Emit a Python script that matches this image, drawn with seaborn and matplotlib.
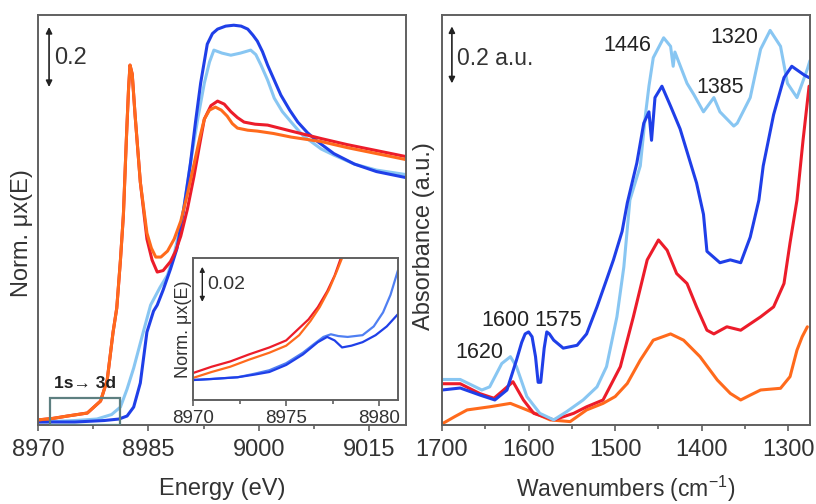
import numpy as np
import pandas as pd
import matplotlib.pyplot as plt
import seaborn as sns

# --- XANES (left) ---
e_orange = [8970, 8972, 8974, 8976.7, 8978.5, 8979.4, 8980.2, 8980.7, 8981.2, 8981.6, 8982.0, 8982.3, 8982.5,
            8982.8, 8983.2, 8983.9, 8984.8, 8985.4, 8986.0, 8986.7, 8987.6, 8988.5, 8989.4, 8990.3, 8991.2, 8992.0,
            8992.6, 8993.3, 8994.1, 8994.9, 8995.7, 8996.4, 8997.1, 8998.5, 8999.8, 9002.0, 9004.4, 9008.5, 9012.0,
            9016.0, 9020.0]
mu_orange = [0.017, 0.022, 0.03, 0.04, 0.08, 0.15, 0.31, 0.39, 0.55, 0.70, 0.95, 1.12, 1.2,
             1.17, 1.03, 0.81, 0.64, 0.59, 0.56, 0.56, 0.58, 0.62, 0.68, 0.77, 0.87, 0.96,
             1.02, 1.05, 1.06, 1.05, 1.03, 1.005, 0.99, 0.983, 0.98, 0.972, 0.96, 0.945, 0.925,
             0.905, 0.885]
e_red = [8970, 8972, 8974, 8976.7, 8978.5, 8979.4, 8980.2, 8980.7, 8981.2, 8981.6, 8982.0, 8982.3, 8982.5,
         8982.8, 8983.2, 8983.9, 8984.8, 8985.5, 8986.2, 8987.0, 8988.0, 8988.7, 8989.4, 8990.3, 8991.2, 8992.0,
         8992.6, 8993.5, 8994.4, 8995.3, 8996.2, 8997.1, 8998.0, 8999.5, 9001.2, 9002.8, 9004.4, 9008.5, 9012.0,
         9016.0, 9020.0]
mu_red = [0.017, 0.022, 0.03, 0.04, 0.08, 0.15, 0.31, 0.39, 0.55, 0.70, 0.95, 1.12, 1.2,
          1.17, 1.03, 0.81, 0.62, 0.55, 0.51, 0.515, 0.545, 0.58, 0.63, 0.72, 0.83, 0.94,
          1.02, 1.065, 1.08, 1.07, 1.045, 1.025, 1.01, 1.003, 1.0, 0.99, 0.98, 0.955, 0.935,
          0.915, 0.895]
e_blue = [8970, 8975, 8979, 8981, 8982.1, 8983.0, 8983.9, 8984.8, 8985.7, 8986.2, 8987.0, 8988.0, 8988.9, 8989.8,
          8990.7, 8991.4, 8992.1, 8993.0, 8993.7, 8994.4, 8995.5, 8996.6, 8997.6, 8998.5, 8999.2, 8999.8, 9000.5,
          9001.2, 9002.1, 9003.0, 9004.2, 9005.3, 9006.6, 9008.0, 9010.2, 9013.0, 9016.0, 9020.0]
mu_blue = [0.01, 0.01, 0.015, 0.02, 0.03, 0.06, 0.14, 0.31, 0.38, 0.40, 0.45, 0.52, 0.59, 0.72,
           0.87, 1.01, 1.14, 1.27, 1.305, 1.32, 1.33, 1.333, 1.33, 1.32, 1.30, 1.28, 1.245,
           1.2, 1.15, 1.1, 1.05, 1.01, 0.975, 0.945, 0.905, 0.87, 0.845, 0.825]
e_lblue = [8970, 8975, 8978, 8980, 8981.2, 8982.1, 8983.0, 8984.3, 8985.3, 8986.6, 8987.6, 8988.5, 8989.6, 8990.7,
           8991.7, 8992.6, 8993.3, 8993.9, 8995.0, 8996.2, 8997.5, 8998.9, 8999.6, 9000.3, 9001.2, 9002.1, 9003.2,
           9004.4, 9006.0, 9008.5, 9010.2, 9013.0, 9016.0, 9020.0]
mu_lblue = [0.01, 0.015, 0.02, 0.035, 0.06, 0.12, 0.19, 0.31, 0.40, 0.46, 0.50, 0.57, 0.69, 0.87,
            1.02, 1.14, 1.21, 1.25, 1.24, 1.233, 1.24, 1.25, 1.235, 1.2, 1.15, 1.09, 1.045,
            1.01, 0.965, 0.92, 0.9, 0.87, 0.85, 0.835]

# --- pre-edge inset ---
ie_red = [8970, 8971, 8972, 8973, 8974.1, 8975, 8975.6, 8976.2, 8976.7, 8977.2, 8977.6, 8977.9, 8978.2]
imu_red = [0.0154, 0.019, 0.022, 0.026, 0.030, 0.034, 0.040, 0.046, 0.053, 0.062, 0.071, 0.080, 0.09]
ie_orange = [8970, 8971, 8972, 8973, 8974.1, 8975, 8975.7, 8976.3, 8976.8, 8977.3, 8977.7, 8978.0, 8978.3]
imu_orange = [0.0126, 0.016, 0.019, 0.023, 0.027, 0.031, 0.037, 0.045, 0.053, 0.063, 0.073, 0.081, 0.09]
ie_blue1 = [8970, 8971, 8972.4, 8973.3, 8974.1, 8975, 8975.9, 8976.5, 8977.0, 8977.4, 8977.8, 8978.3, 8979.1,
            8979.7, 8980.2, 8980.6, 8981]
imu_blue1 = [0.0114, 0.012, 0.013, 0.015, 0.017, 0.021, 0.027, 0.032, 0.036, 0.0375, 0.0365, 0.036, 0.037,
             0.042, 0.050, 0.060, 0.074]
ie_blue2 = [8970, 8971, 8972.4, 8973.3, 8974.1, 8975, 8975.9, 8976.7, 8977.2, 8977.6, 8978.0, 8978.5, 8979.1,
            8979.8, 8980.4, 8981]
imu_blue2 = [0.0114, 0.012, 0.013, 0.0145, 0.016, 0.020, 0.026, 0.033, 0.036, 0.034, 0.030, 0.031, 0.033,
             0.037, 0.042, 0.049]

# --- IR (right) ---
wn_orange = [1700, 1685, 1671, 1645, 1621, 1602, 1588, 1575, 1552, 1533, 1514, 1500, 1486, 1471, 1456, 1436,
             1421, 1402, 1382, 1367, 1355, 1344, 1332, 1309, 1298, 1290, 1284, 1278]
ab_orange = [0.004, 0.03, 0.053, 0.064, 0.076, 0.053, 0.035, 0.018, 0.012, 0.053, 0.076, 0.1, 0.146, 0.228,
             0.298, 0.32, 0.298, 0.24, 0.158, 0.111, 0.088, 0.105, 0.123, 0.129, 0.17, 0.263, 0.31, 0.345]
wn_red = [1700, 1679, 1656, 1640, 1630, 1618, 1606, 1594, 1571, 1548, 1533, 1514, 1494, 1479, 1463, 1450, 1440,
          1429, 1417, 1406, 1394, 1386, 1371, 1355, 1332, 1317, 1305, 1298, 1290, 1283, 1276]
ab_red = [0.145, 0.145, 0.11, 0.094, 0.12, 0.152, 0.088, 0.041, 0.018, 0.041, 0.064, 0.088, 0.205, 0.38, 0.58,
          0.65, 0.614, 0.532, 0.497, 0.415, 0.333, 0.32, 0.345, 0.333, 0.38, 0.415, 0.497, 0.64, 0.79, 1.0, 1.19]
wn_blue = [1700, 1679, 1656, 1639, 1625, 1614, 1608, 1604, 1600, 1596, 1592, 1589, 1586, 1582, 1579, 1576, 1571,
           1560, 1544, 1533, 1521, 1510, 1502, 1492, 1486, 1475, 1467, 1461, 1458, 1454, 1446, 1436, 1425, 1417,
           1406, 1398, 1394, 1379, 1367, 1355, 1344, 1334, 1329, 1317, 1305, 1296, 1282, 1276]
ab_blue = [0.123, 0.13, 0.105, 0.088, 0.123, 0.228, 0.29, 0.32, 0.327, 0.31, 0.24, 0.15, 0.15, 0.27, 0.327,
           0.32, 0.298, 0.27, 0.28, 0.32, 0.415, 0.51, 0.58, 0.68, 0.78, 0.92, 1.06, 1.1, 1.0, 1.15, 1.19, 1.12,
           1.04, 0.96, 0.85, 0.74, 0.61, 0.57, 0.58, 0.57, 0.66, 0.79, 0.91, 1.09, 1.22, 1.26, 1.23, 1.22]
wn_lblue = [1700, 1679, 1654, 1645, 1631, 1621, 1614, 1602, 1587, 1571, 1556, 1537, 1521, 1510, 1498, 1490, 1483,
            1471, 1465, 1461, 1456, 1444, 1436, 1433, 1431, 1417, 1409, 1398, 1386, 1379, 1363, 1359, 1344,
            1332, 1321, 1309, 1301, 1290, 1278, 1275]
ab_lblue = [0.16, 0.16, 0.123, 0.134, 0.216, 0.24, 0.205, 0.1, 0.041, 0.018, 0.047, 0.088, 0.134, 0.205, 0.38,
            0.555, 0.79, 0.91, 1.09, 1.19, 1.29, 1.36, 1.33, 1.26, 1.31, 1.2, 1.16, 1.1, 1.15, 1.1, 1.05, 1.06,
            1.15, 1.32, 1.386, 1.33, 1.2, 1.15, 1.25, 1.28]

c_blue = "#1f3fe8"
c_lblue = "#88c6f2"
c_red = "#ec1c2a"
c_orange = "#ff6a1c"
c_mblue = "#4f7ff2"
c_txt = "#333333"

sns.set_style("ticks")
plt.rcParams['font.family'] = ['Liberation Sans', 'DejaVu Sans']
plt.rcParams['mathtext.fontset'] = 'custom'
plt.rcParams['mathtext.rm'] = 'Liberation Sans'

fig = plt.figure(figsize=(8.16, 5.04), dpi=100)
ax1 = fig.add_axes([0.0466, 0.1567, 0.4509, 0.8135])
ax2 = fig.add_axes([0.5417, 0.1567, 0.4509, 0.8135])
axi = fig.add_axes([0.2365, 0.2063, 0.2512, 0.2817])

lw = 2.2
for xs, ys, col in [(e_lblue, mu_lblue, c_lblue), (e_blue, mu_blue, c_blue),
                    (e_red, mu_red, c_red), (e_orange, mu_orange, c_orange)]:
    sns.lineplot(x=xs, y=ys, color=col, lw=lw, ax=ax1, sort=False)

for xs, ys, col in [(ie_red, imu_red, c_red), (ie_orange, imu_orange, c_orange),
                    (ie_blue1, imu_blue1, c_mblue), (ie_blue2, imu_blue2, c_blue)]:
    sns.lineplot(x=xs, y=ys, color=col, lw=1.6, ax=axi, sort=False)

for xs, ys, col in [(wn_orange, ab_orange, c_orange), (wn_red, ab_red, c_red),
                    (wn_lblue, ab_lblue, c_lblue), (wn_blue, ab_blue, c_blue)]:
    sns.lineplot(x=xs, y=ys, color=col, lw=lw, ax=ax2, sort=False)

for ax in (ax1, ax2, axi):
    for s in ax.spines.values():
        s.set_color("#606060")
        s.set_linewidth(1.4)
    ax.set_yticks([])
    ax.tick_params(axis='x', which='both', direction='out', color="#606060", width=1.2)
    ax.tick_params(axis='x', which='major', length=4, labelsize=17, pad=6, labelcolor=c_txt)
    ax.tick_params(axis='x', which='minor', length=3)
    for line in ax.get_lines():
        line.set_solid_joinstyle('round')

ax1.set_xlim(8970, 9020)
ax1.set_ylim(0, 1.367)
ax1.set_xticks([8970, 8985, 9000, 9015])
ax1.set_xticks([8977.5, 8992.5, 9007.5], minor=True)
ax1.set_xlabel("Energy (eV)", fontsize=17, color=c_txt, va="top")
ax1.xaxis.set_label_coords(0.5, -0.128)
ax1.set_ylabel("Norm. \u03bcx(E)", fontsize=17, color=c_txt)
ax1.yaxis.set_label_coords(-0.015, 0.468)
ax1.annotate("", xy=(8971.5, 1.127), xytext=(8971.5, 1.327),
             arrowprops=dict(arrowstyle="<|-|>", color="#222222", lw=1.2, mutation_scale=9,
                             shrinkA=0, shrinkB=0))
ax1.text(8972.2, 1.223, "0.2", fontsize=17, color=c_txt, va="center")
ax1.add_patch(plt.Rectangle((8971.6, 0.0), 9.6, 0.09, fill=False, ec="#5d7f80", lw=1.6, zorder=5))
ax1.text(8976.4, 0.14, "1s\u2192 3d", fontsize=12.5, fontweight="bold", color="#222222", ha="center", va="center")

axi.set_xlim(8970, 8981)
axi.set_ylim(0, 0.081)
axi.set_xticks([8970, 8975, 8980])
axi.set_xticks([8972.5, 8977.5], minor=True)
axi.tick_params(axis='x', which='major', labelsize=13.5, pad=3)
axi.set_ylabel("Norm. \u03bcx(E)", fontsize=13, color=c_txt, labelpad=1)
axi.annotate("", xy=(8970.5, 0.056), xytext=(8970.5, 0.076),
             arrowprops=dict(arrowstyle="<|-|>", color="#222222", lw=1.0, mutation_scale=7,
                             shrinkA=0, shrinkB=0))
axi.text(8970.75, 0.066, "0.02", fontsize=14, color=c_txt, va="center")

ax2.set_xlim(1700, 1275)
ax2.set_ylim(0, 1.44)
ax2.set_xticks([1700, 1600, 1500, 1400, 1300])
ax2.set_xticks([1650, 1550, 1450, 1350], minor=True)
ax2.set_xlabel("Wavenumbers (cm$^{\\mathregular{-1}}$)", fontsize=16.5, color=c_txt, va="top")
ax2.xaxis.set_label_coords(0.5, -0.12)
ax2.set_ylabel("Absorbance (a.u.)", fontsize=17, color=c_txt)
ax2.yaxis.set_label_coords(-0.019, 0.462)
ax2.annotate("", xy=(1688.6, 1.2), xytext=(1688.6, 1.4),
             arrowprops=dict(arrowstyle="<|-|>", color="#222222", lw=1.2, mutation_scale=9,
                             shrinkA=0, shrinkB=0))
ax2.text(1683, 1.288, "0.2 a.u.", fontsize=16.5, color=c_txt, va="center")
for lab, wx, vy in [("1446", 1486, 1.333), ("1320", 1362, 1.362), ("1385", 1379, 1.187),
                    ("1600", 1627, 0.368), ("1575", 1566, 0.368), ("1620", 1657, 0.253)]:
    ax2.text(wx, vy, lab, fontsize=15.5, color="#222222", ha="center", va="center")

fig.savefig("out.png", dpi=100)
